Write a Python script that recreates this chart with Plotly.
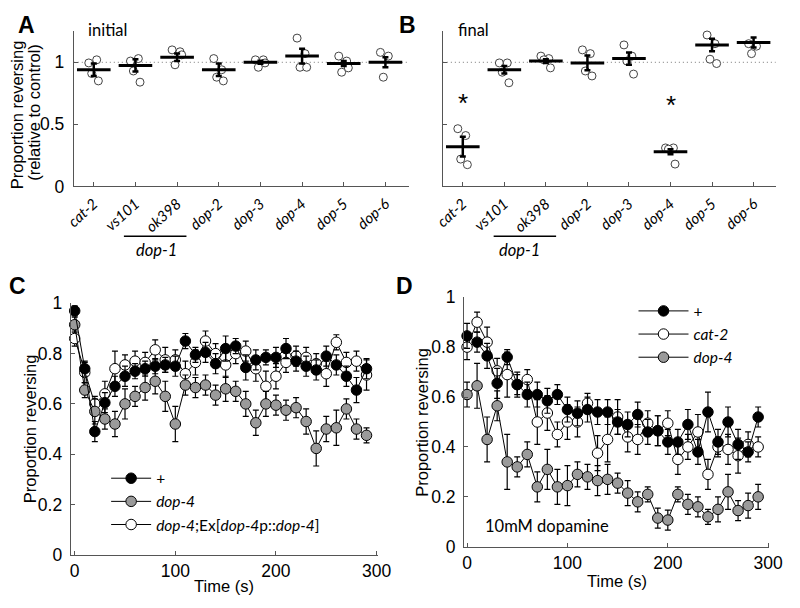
import plotly.graph_objects as go

W, H = 800, 608
def px(x): return x / W
def py(y): return 1 - y / H

# ---------------- data ----------------
genotypes = ["cat-2", "vs101", "ok398", "dop-2", "dop-3", "dop-4", "dop-5", "dop-6"]
a_mean = [0.94, 0.975, 1.04, 0.94, 1.0, 1.05, 0.99, 1.0]
a_sem = [0.05, 0.05, 0.03, 0.05, 0.012, 0.06, 0.02, 0.04]
a_pts = [[0.995, 1.02, 0.91, 0.85], [1.01, 1.03, 0.93, 0.84], [1.10, 1.085, 0.98, 1.06],
         [1.03, 0.94, 0.88, 0.85], [1.02, 1.02, 0.96, 0.995], [1.195, 1.07, 0.96, 0.96],
         [1.05, 1.01, 0.92, 0.955], [1.08, 1.05, 0.88]]
b_mean = [0.32, 0.94, 1.01, 0.995, 1.03, 0.28, 1.14, 1.16]
b_sem = [0.08, 0.03, 0.015, 0.06, 0.05, 0.02, 0.05, 0.04]
b_pts = [[0.465, 0.41, 0.22, 0.175], [0.995, 0.995, 0.92, 0.835], [1.05, 1.03, 1.02, 0.955],
         [1.10, 1.07, 0.93, 0.89], [1.14, 1.05, 1.01, 0.905], [0.31, 0.31, 0.30, 0.18],
         [1.22, 1.15, 1.025, 0.99], [1.15, 1.13, 1.07]]
b_sig = [0.685, None, None, None, None, 0.67, None, None]

time_s = [0, 10, 20, 30, 40, 50, 60, 70, 80, 90, 100, 110, 120, 130, 140,
          150, 160, 170, 180, 190, 200, 210, 220, 230, 240, 250, 260, 270, 280, 290]

c_wt = [0.97, 0.74, 0.49, 0.605, 0.67, 0.71, 0.73, 0.74, 0.75, 0.755, 0.75, 0.85, 0.795, 0.805, 0.76,
        0.82, 0.83, 0.745, 0.775, 0.785, 0.785, 0.82, 0.77, 0.75, 0.735, 0.79, 0.755, 0.71, 0.655, 0.74]
c_wt_err = [0.02, 0.03, 0.04, 0.04, 0.04, 0.04, 0.03, 0.03, 0.03, 0.03, 0.04, 0.03, 0.03, 0.04, 0.04,
            0.05, 0.03, 0.05, 0.04, 0.03, 0.04, 0.04, 0.04, 0.04, 0.04, 0.04, 0.04, 0.04, 0.05, 0.04]
c_dop4 = [0.915, 0.655, 0.57, 0.54, 0.52, 0.60, 0.63, 0.665, 0.69, 0.63, 0.52, 0.675, 0.665, 0.675, 0.635,
          0.66, 0.65, 0.60, 0.525, 0.60, 0.595, 0.575, 0.585, 0.53, 0.423, 0.50, 0.505, 0.58, 0.50, 0.475]
c_dop4_err = [0.03, 0.03, 0.05, 0.04, 0.05, 0.06, 0.04, 0.05, 0.05, 0.06, 0.07, 0.04, 0.04, 0.04, 0.04,
              0.05, 0.04, 0.05, 0.05, 0.05, 0.04, 0.04, 0.04, 0.05, 0.07, 0.05, 0.07, 0.04, 0.04, 0.03]
c_rescue = [0.86, 0.725, 0.60, 0.64, 0.74, 0.755, 0.77, 0.765, 0.815, 0.775, 0.775, 0.72, 0.765, 0.85, 0.80,
            0.755, 0.80, 0.81, 0.74, 0.67, 0.71, 0.765, 0.79, 0.785, 0.76, 0.72, 0.845, 0.765, 0.77, 0.715]
c_rescue_err = [0.03, 0.04, 0.03, 0.05, 0.07, 0.04, 0.04, 0.04, 0.04, 0.05, 0.04, 0.05, 0.05, 0.04, 0.04,
                0.05, 0.04, 0.04, 0.05, 0.06, 0.05, 0.04, 0.04, 0.04, 0.04, 0.05, 0.03, 0.04, 0.04, 0.06]

d_wt = [0.845, 0.82, 0.765, 0.655, 0.76, 0.65, 0.61, 0.61, 0.585, 0.61, 0.55, 0.535, 0.55, 0.54, 0.54,
        0.50, 0.49, 0.53, 0.46, 0.465, 0.42, 0.42, 0.49, 0.38, 0.54, 0.42, 0.50, 0.41, 0.38, 0.52]
d_wt_err = [0.05, 0.04, 0.05, 0.06, 0.03, 0.05, 0.05, 0.05, 0.05, 0.04, 0.05, 0.05, 0.05, 0.05, 0.05,
            0.05, 0.05, 0.05, 0.05, 0.06, 0.05, 0.05, 0.06, 0.05, 0.08, 0.05, 0.06, 0.06, 0.04, 0.04]
d_cat2 = [0.80, 0.90, 0.82, 0.705, 0.69, 0.65, 0.67, 0.50, 0.536, 0.45, 0.50, 0.50, 0.575, 0.375, 0.43,
          0.52, 0.44, 0.43, 0.495, 0.465, 0.495, 0.35, 0.40, 0.46, 0.29, 0.40, 0.39, 0.365, 0.41, 0.40]
d_cat2_err = [0.05, 0.04, 0.06, 0.05, 0.09, 0.04, 0.04, 0.09, 0.07, 0.05, 0.07, 0.06, 0.04, 0.07, 0.09,
              0.07, 0.06, 0.06, 0.05, 0.06, 0.05, 0.06, 0.05, 0.07, 0.06, 0.04, 0.06, 0.07, 0.05, 0.04]
d_dop4 = [0.61, 0.645, 0.43, 0.565, 0.34, 0.32, 0.37, 0.24, 0.31, 0.24, 0.245, 0.29, 0.28, 0.265, 0.27,
          0.255, 0.215, 0.18, 0.21, 0.115, 0.107, 0.21, 0.17, 0.16, 0.12, 0.15, 0.22, 0.145, 0.165, 0.20]
d_dop4_err = [0.05, 0.09, 0.09, 0.06, 0.11, 0.04, 0.05, 0.06, 0.08, 0.07, 0.08, 0.05, 0.05, 0.06, 0.06,
              0.04, 0.05, 0.04, 0.03, 0.04, 0.04, 0.03, 0.04, 0.04, 0.03, 0.05, 0.07, 0.04, 0.05, 0.05]

c_marks = [("#", 0.73), ("#", 0.654), ("&", 0.463)]
d_marks = [("#", 0.517), ("#", 0.394), ("&", 0.19)]

# ---------------- styles ----------------
SANS = "Liberation Sans, Arial, sans-serif"
HUM = "Lato, Open Sans, sans-serif"
AXC = "#555555"
GRAY = "#9a9a9a"
TICK = 17.5
jit = [-0.12, 0.07, -0.05, 0.11]

fig = go.Figure()

# ---- Panels A & B ----
for k, (means, sems, pts) in enumerate([(a_mean, a_sem, a_pts), (b_mean, b_sem, b_pts)]):
    xa = "x" if k == 0 else "x2"
    ya = "y" if k == 0 else "y2"
    xs, ys = [], []
    for i, group in enumerate(pts):
        for j, v in enumerate(group):
            xs.append(i + 1 + jit[j % len(jit)])
            ys.append(v)
    fig.add_trace(go.Scatter(x=xs, y=ys, mode="markers", xaxis=xa, yaxis=ya, showlegend=False,
                             marker=dict(symbol="circle", size=8, color="white",
                                         line=dict(color="#444", width=1)),
                             cliponaxis=False, hoverinfo="skip"))
    fig.add_trace(go.Scatter(x=list(range(1, len(means) + 1)), y=means, mode="markers",
                             xaxis=xa, yaxis=ya, showlegend=False,
                             marker=dict(symbol="line-ew", size=24, color="black",
                                         line=dict(color="black", width=3)),
                             error_y=dict(type="data", array=sems, color="black", thickness=2.5, width=3),
                             cliponaxis=False, hoverinfo="skip"))

# ---- Panel C ----
c_series = [
    (c_rescue, c_rescue_err, "white", "<i>dop-4</i>;Ex[<i>dop-4</i>p::<i>dop-4</i>]", 3),
    (c_dop4, c_dop4_err, GRAY, "<i>dop-4</i>", 2),
    (c_wt, c_wt_err, "black", "+", 1),
]
for vals, err, col, name, rank in c_series:
    fig.add_trace(go.Scatter(x=time_s, y=vals, mode="lines+markers", name=name, xaxis="x3", yaxis="y3",
                             legend="legend", legendrank=rank,
                             line=dict(color="black", width=1),
                             marker=dict(size=10.5, color=col, line=dict(color="black", width=1)),
                             error_y=dict(type="data", array=err, color="black", thickness=1.2, width=3),
                             cliponaxis=False))

# ---- Panel D ----
d_series = [
    (d_dop4, d_dop4_err, GRAY, "<i>dop-4</i>", 3),
    (d_cat2, d_cat2_err, "white", "<i>cat-2</i>", 2),
    (d_wt, d_wt_err, "black", "+", 1),
]
for vals, err, col, name, rank in d_series:
    fig.add_trace(go.Scatter(x=time_s, y=vals, mode="lines+markers", name=name, xaxis="x4", yaxis="y4",
                             legend="legend2", legendrank=rank,
                             line=dict(color="black", width=1),
                             marker=dict(size=10.5, color=col, line=dict(color="black", width=1)),
                             error_y=dict(type="data", array=err, color="black", thickness=1.2, width=3),
                             cliponaxis=False))

# ---------------- axes ----------------
ab_ydom = [py(182.4), py(22)]
common = dict(showgrid=False, zeroline=False, showline=True, linecolor=AXC, linewidth=1,
              ticks="inside", ticklen=4, tickcolor=AXC, tickwidth=1)
cat_text = ["<i>%s</i>" % g for g in genotypes]
numfont = dict(family=SANS, size=TICK, color="black")
catfont = dict(family=HUM, size=15, color="black")
fig.update_layout(
    xaxis=dict(domain=[px(66.7), px(412)], range=[0.52, 8.57], anchor="y",
               tickvals=list(range(1, 9)), ticktext=cat_text, tickangle=-42,
               tickfont=catfont, ticklabelstandoff=2, **common),
    yaxis=dict(domain=ab_ydom, range=[0, 1.25], anchor="x", tickvals=[0, 0.5, 1],
               ticktext=["0", "0.5", "1"], tickfont=numfont, ticklabelstandoff=5, **common),
    xaxis2=dict(domain=[px(446.7), px(789.3)], range=[0.52, 8.53], anchor="y2",
                tickvals=list(range(1, 9)), ticktext=cat_text, tickangle=-42,
                tickfont=catfont, ticklabelstandoff=2, **common),
    yaxis2=dict(domain=ab_ydom, range=[0, 1.25], anchor="x2", tickvals=[0, 0.5, 1],
                showticklabels=False, **common),
    xaxis3=dict(domain=[px(63.5), px(379.5)], range=[-4, 301], anchor="y3",
                tickvals=[0, 100, 200, 300], tickfont=numfont, **common),
    yaxis3=dict(domain=[py(563.3), py(303.3)], range=[0, 1], anchor="x3",
                tickvals=[0, 0.2, 0.4, 0.6, 0.8, 1], ticktext=["0", "0.2", "0.4", "0.6", "0.8", "1"],
                tickfont=numfont, ticklabelstandoff=4, **common),
    xaxis4=dict(domain=[px(468.5), px(782.7)], range=[-3, 301], anchor="y4",
                tickvals=[0, 100, 200, 300], tickfont=numfont, **common),
    yaxis4=dict(domain=[py(555), py(297)], range=[0, 1], anchor="x4",
                tickvals=[0, 0.2, 0.4, 0.6, 0.8, 1], ticktext=["0", "0.2", "0.4", "0.6", "0.8", "1"],
                tickfont=numfont, ticklabelstandoff=4, **common),
)

# ---------------- shapes ----------------
shapes = []
for xr, yr in [("x", "y"), ("x2", "y2")]:
    shapes.append(dict(type="line", xref=xr + " domain", yref=yr, x0=0, x1=1, y0=1, y1=1,
                       line=dict(color="#777", width=1, dash="1px,3px"), layer="below"))
for x0, x1 in [(118.3, 182.7), (499, 563.3)]:
    shapes.append(dict(type="line", xref="paper", yref="paper", x0=px(x0), x1=px(x1),
                       y0=py(234), y1=py(234), line=dict(color="black", width=1.5)))
fig.update_layout(shapes=shapes)

# ---------------- annotations ----------------
ann = []
def text(x, y, s, size=16, family=SANS, xanchor="center", yanchor="middle", angle=0, bold=False):
    t = "<b>%s</b>" % s if bold else s
    ann.append(dict(x=px(x), y=py(y), xref="paper", yref="paper", text=t, showarrow=False,
                    xanchor=xanchor, yanchor=yanchor, textangle=angle,
                    font=dict(family=family, size=size, color="black")))

text(18.5, 15, "A", size=23, bold=True)
text(410, 15, "B", size=23, bold=True)
text(9, 285, "C", size=23, bold=True)
text(407.5, 285, "D", size=23, bold=True)
text(79, 21, "initial", size=16.5, family=HUM, xanchor="left")
text(460, 21, "final", size=16.5, family=HUM, xanchor="left")
text(9, 108, "Proportion reversing", size=16.5, angle=-90)
text(25, 106, "(relative to control)", size=16.5, angle=-90)
text(152, 248, "<i>dop-1</i>", size=16.5, family=HUM)
text(525.7, 248, "<i>dop-1</i>", size=16.5, family=HUM)
text(21, 433, "Proportion reversing", size=16.5, angle=-90)
text(425, 426, "Proportion reversing", size=16.5, angle=-90)
text(221.5, 596, "Time (s)", size=16.5)
text(625.6, 590, "Time (s)", size=16.5)
text(488, 534, "10mM dopamine", size=16.5, family=HUM, xanchor="left")

for i, v in enumerate(b_sig):
    if v is not None:
        ann.append(dict(x=i + 1, y=v, xref="x2", yref="y2", text="*", showarrow=False,
                        yanchor="middle", yshift=-2, font=dict(family=SANS, size=26, color="black")))
for s, v in c_marks:
    ann.append(dict(x=307, y=v, xref="x3", yref="y3", text=s, showarrow=False, xanchor="center",
                    font=dict(family=SANS, size=15, color="black")))
for s, v in d_marks:
    ann.append(dict(x=308, y=v, xref="x4", yref="y4", text=s, showarrow=False, xanchor="center",
                    font=dict(family=SANS, size=15, color="black")))

fig.update_layout(
    annotations=ann,
    width=W, height=H, margin=dict(l=0, r=0, t=0, b=0),
    paper_bgcolor="white", plot_bgcolor="white",
    legend=dict(x=px(100), y=py(467), xanchor="left", yanchor="top", bgcolor="rgba(0,0,0,0)",
                itemwidth=40, font=dict(family=HUM, size=15.5, color="black"), tracegroupgap=0),
    legend2=dict(x=px(643), y=py(294), xanchor="left", yanchor="top", bgcolor="rgba(0,0,0,0)",
                 itemwidth=50, font=dict(family=HUM, size=15.5, color="black"), tracegroupgap=0),
    hovermode=False,
)

fig.write_html("out.html", config={"displayModeBar": False},
               post_script="document.body.style.margin='0';document.body.style.overflow='hidden';")
